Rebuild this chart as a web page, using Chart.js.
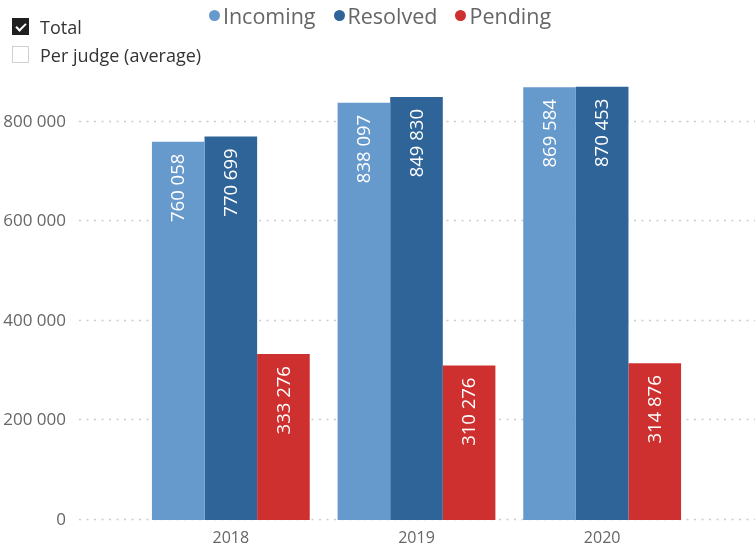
<!DOCTYPE html>
<html>
<head>
<meta charset="utf-8">
<script src="https://cdn.jsdelivr.net/npm/chart.js@4.4.1/dist/chart.umd.min.js"></script>
<style>
  body { margin: 0; background: #fff; }
  #wrap { position: relative; width: 756px; height: 552px; font-family: "Open Sans", sans-serif; }
  canvas { display: block; }
  .opt { position: absolute; left: 12px; height: 17px; font-size: 18px; color: #333; display: flex; align-items: center; white-space: nowrap; }
  .box { width: 17px; height: 17px; box-sizing: border-box; margin-right: 11px; border: 1px solid #d0d0d0; background: #fff; position: relative; flex: none; }
  .box.on { background: #1f1f1f; border-color: #1f1f1f; }
  .box.on::after { content: ""; position: absolute; left: 5px; top: 2px; width: 4px; height: 8px; border: solid #fff; border-width: 0 2px 2px 0; transform: rotate(45deg); }
  #legend { position: absolute; left: 0; top: 1px; width: 756px; display: flex; justify-content: center; gap: 18px; font-size: 21.5px; color: #666; padding-left: 2px; }
  #legend span.item { display: flex; align-items: center; }
  #legend i { width: 11px; height: 11px; border-radius: 50%; margin-right: 3px; display: inline-block; }
</style>
</head>
<body>
<div id="wrap">
  <canvas id="chart" width="756" height="552"></canvas>
  <div id="legend"></div>
  <div class="opt" style="top:18px"><span class="box on"></span>Total</div>
  <div class="opt" style="top:46px"><span class="box"></span>Per judge (average)</div>
</div>
<script>
const years = ["2018", "2019", "2020"];
const incoming = [760058, 838097, 869584];
const resolved = [770699, 849830, 870453];
const pending = [333276, 310276, 314876];
const yTicks = [0, 200000, 400000, 600000, 800000];

const colors = ["#6699CC", "#2F6498", "#CE2F2F"];

function fmt(n) {
  return String(n).replace(/\B(?=(\d{3})+(?!\d))/g, " ");
}

// dotted gridlines, running past the plot area like the original
const gridPlugin = {
  id: "dotGrid",
  beforeDatasetsDraw(chart) {
    const ctx = chart.ctx;
    const y = chart.scales.y;
    ctx.save();
    ctx.strokeStyle = "#cccccc";
    ctx.lineWidth = 1.5;
    ctx.setLineDash([2, 5.5]);
    y.ticks.forEach((t) => {
      const py = Math.round(y.getPixelForValue(t.value)) - 0.5;
      ctx.beginPath();
      ctx.moveTo(79, py);
      ctx.lineTo(755, py);
      ctx.stroke();
    });
    ctx.restore();
  },
};

// vertical value labels inside the top of each bar
const labelPlugin = {
  id: "barLabels",
  afterDatasetsDraw(chart) {
    const ctx = chart.ctx;
    ctx.save();
    ctx.fillStyle = "#fff";
    ctx.font = "18.5px 'Open Sans'";
    ctx.textAlign = "right";
    ctx.textBaseline = "middle";
    chart.data.datasets.forEach((ds, i) => {
      chart.getDatasetMeta(i).data.forEach((bar, j) => {
        ctx.save();
        ctx.translate(bar.x + 1, bar.y + 12);
        ctx.rotate(-Math.PI / 2);
        ctx.fillText(fmt(ds.data[j]), 0, 0);
        ctx.restore();
      });
    });
    ctx.restore();
  },
};

const chart = new Chart(document.getElementById("chart"), {
  type: "bar",
  data: {
    labels: years,
    datasets: [
      { label: "Incoming", data: incoming, backgroundColor: colors[0] },
      { label: "Resolved", data: resolved, backgroundColor: colors[1] },
      { label: "Pending", data: pending, backgroundColor: colors[2] },
    ],
  },
  options: {
    responsive: false,
    animation: false,
    layout: { padding: { top: 82, right: 61, bottom: 0, left: 0 } },
    datasets: { bar: { categoryPercentage: 0.85, barPercentage: 1.0 } },
    plugins: {
      tooltip: { enabled: false },
      legend: { display: false },
    },
    scales: {
      x: {
        grid: { display: false, drawTicks: false },
        border: { display: false },
        ticks: { color: "#666", font: { family: "'Open Sans'", size: 16 }, padding: 9 },
        afterFit(scale) { scale.height = 32; },
      },
      y: {
        min: 0,
        max: 880000,
        grid: { display: false, drawTicks: false },
        border: { display: false },
        ticks: {
          color: "#666",
          padding: 72,
          font: { family: "'Open Sans'", size: 17 },
          callback: (v) => fmt(v),
        },
        afterBuildTicks(scale) {
          scale.ticks = yTicks.map((v) => ({ value: v }));
        },
        afterFit(scale) {
          scale.width = 138;
          scale.paddingTop = 0;
          scale.paddingBottom = 0;
        },
      },
    },
  },
  plugins: [gridPlugin, labelPlugin],
});

// legend built from the chart's datasets
const legend = document.getElementById("legend");
chart.data.datasets.forEach((ds) => {
  const item = document.createElement("span");
  item.className = "item";
  const dot = document.createElement("i");
  dot.style.background = ds.backgroundColor;
  item.appendChild(dot);
  item.appendChild(document.createTextNode(ds.label));
  legend.appendChild(item);
});
</script>
</body>
</html>
